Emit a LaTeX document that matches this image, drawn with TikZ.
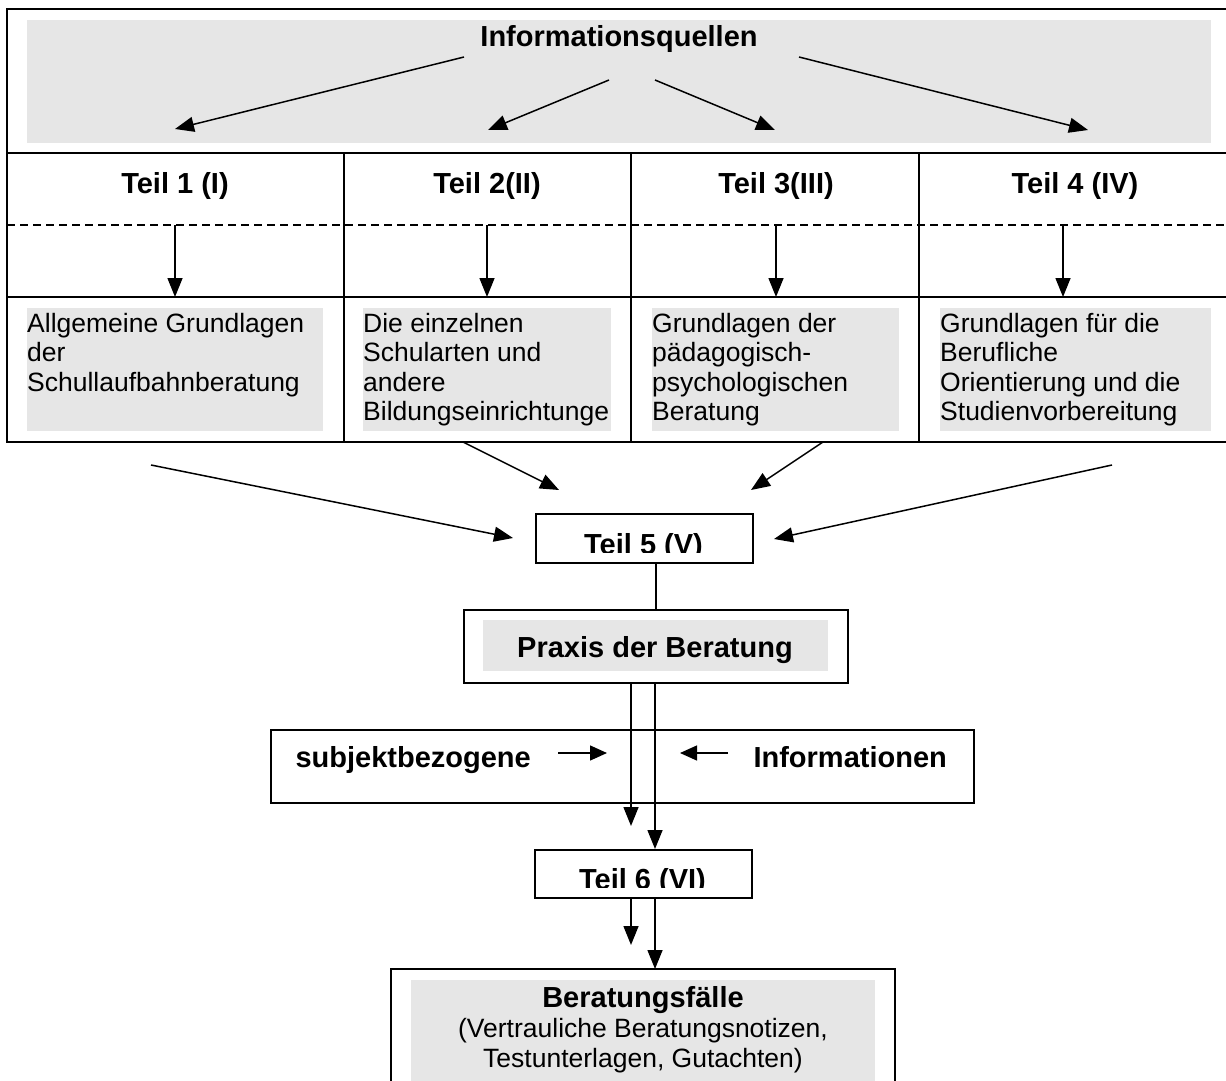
\documentclass[tikz,border=0pt]{standalone}
\usepackage{fontspec}
\setmainfont{Liberation Sans}
\usetikzlibrary{arrows.meta}
\definecolor{shadegray}{RGB}{230,230,230}
\begin{document}
\begin{tikzpicture}[x=1pt,y=-1pt,
  bf/.style={font=\fontsize{29}{34}\selectfont\bfseries},
  rf/.style={font=\fontsize{26.5}{29.4}\selectfont},
  arr/.style={line width=1.5pt,-{Triangle[length=19pt,width=15pt]}},
  sarr/.style={line width=1.4pt,-{Triangle[length=17pt,width=15pt]}},
  rule/.style={line width=1.8pt},
  boxed/.style={draw,line width=1.6pt,inner sep=0pt,anchor=north west},
  shadebox/.style={fill=shadegray,draw=none,inner sep=0pt,anchor=north west},
  para/.style={rf,anchor=north west,inner sep=0pt,align=left},
]
\useasboundingbox (0,0) rectangle (1226,1081);

% ---------- top block ----------
\node[shadebox,minimum width=1184pt,minimum height=123pt] (topshade) at (27,20) {};
\node[bf,anchor=base] (info) at (619,47) {Informationsquellen};

\draw[rule] (1226,9) -- (7,9) -- (7,442) -- (1226,442);
\draw[rule] (7,153) -- (1226,153);
\draw[rule] (7,297) -- (1226,297);
\draw[line width=1.3pt,dash pattern=on 8pt off 5pt] (7,225) -- (1226,225);
\foreach \x in {344,631,919} \draw[rule] (\x,153) -- (\x,442);

% arrows from Informationsquellen
\coordinate (a1s) at (464,57);  \coordinate (a1e) at (175,129);
\coordinate (a2s) at (609,80);  \coordinate (a2e) at (488,130);
\coordinate (a3s) at (655,80);  \coordinate (a3e) at (775,130);
\coordinate (a4s) at (799,57);  \coordinate (a4e) at (1088,130);
\draw[arr] (a1s) -- (a1e);
\draw[arr] (a2s) -- (a2e);
\draw[arr] (a3s) -- (a3e);
\draw[arr] (a4s) -- (a4e);

% headers
\node[bf,anchor=base] (h1) at (175,193) {Teil 1 (I)};
\node[bf,anchor=base] (h2) at (487,193) {Teil 2(II)};
\node[bf,anchor=base] (h3) at (776,193) {Teil 3(III)};
\node[bf,anchor=base] (h4) at (1075,193) {Teil 4 (IV)};

% down arrows
\foreach \i/\x in {1/175,2/487,3/776,4/1063}{
  \coordinate (d\i s) at (\x,225);
  \coordinate (d\i e) at (\x,297);
  \draw[arr] (d\i s) -- (d\i e);
}

% shaded text cells
\node[shadebox,minimum width=296pt,minimum height=123pt] (gb1) at (27,308) {};
\node[shadebox,minimum width=248pt,minimum height=123pt] (gb2) at (363,308) {};
\node[shadebox,minimum width=247pt,minimum height=123pt] (gb3) at (652,308) {};
\node[shadebox,minimum width=271pt,minimum height=123pt] (gb4) at (940,308) {};

\node[para] (g1) at (27,313) {Allgemeine Grundlagen\\der\\Schullaufbahnberatung};
\node[para] (g2) at (363,313) {Die einzelnen\\Schularten und\\andere\\Bildungseinrichtunge};
\node[para] (g3) at (652,313) {Grundlagen der\\pädagogisch-\\psychologischen\\Beratung};
\node[para] (g4) at (940,313) {Grundlagen für die\\Berufliche\\Orientierung und die\\Studienvorbereitung};

% ---------- Teil 5 ----------
\node[boxed,minimum width=217pt,minimum height=49pt] (t5) at (535,513) {};
\begin{scope}
  \clip (535,513) rectangle (752,552.5);
  \node[bf,anchor=base] (t5l) at (643.5,554.5) {Teil 5 (V)};
\end{scope}

\coordinate (b1s) at (151,465);  \coordinate (b1e) at (513,538);
\coordinate (b2s) at (463,442);  \coordinate (b2e) at (559,490);
\coordinate (b3s) at (823,442);  \coordinate (b3e) at (751,490);
\coordinate (b4s) at (1112,465); \coordinate (b4e) at (774,539);
\draw[arr] (b1s) -- (b1e);
\draw[arr] (b2s) -- (b2e);
\draw[arr] (b3s) -- (b3e);
\draw[arr] (b4s) -- (b4e);

% ---------- Praxis ----------
\node[boxed,minimum width=384pt,minimum height=73pt] (praxis) at (463,609) {};
\node[shadebox,minimum width=345pt,minimum height=51pt] (pshade) at (483,620) {};
\node[bf,anchor=base] (ptext) at (655,657) {Praxis der Beratung};
\draw[line width=1.6pt] (praxis.north |- t5.south) -- (praxis.north);

% ---------- subjektbezogene Informationen ----------
\node[boxed,minimum width=703pt,minimum height=73pt] (subj) at (270,729) {};
\node[bf,anchor=base west] (subjl) at (292,767) {subjektbezogene};
\node[bf,anchor=base west] (subjr) at (750,767) {Informationen};
\coordinate (s1s) at (558,753); \coordinate (s1e) at (607,753);
\coordinate (s2s) at (728,753); \coordinate (s2e) at (680,753);
\draw[sarr] (s1s) -- (s1e);
\draw[sarr] (s2s) -- (s2e);

% ---------- Teil 6 ----------
\node[boxed,minimum width=217pt,minimum height=48pt] (t6) at (534,849) {};
\begin{scope}
  \clip (534,849) rectangle (751,887.5);
  \node[bf,anchor=base] (t6l) at (642.5,889.5) {Teil 6 (VI)};
\end{scope}

\coordinate (p1) at (631,682); \coordinate (p1e) at (631,826);
\draw[arr] (p1) -- (p1e);
\draw[arr] (praxis.south -| 655,0) -- (t6.north -| 655,0);

\coordinate (q1) at (631,897); \coordinate (q1e) at (631,945);
\draw[arr] (q1) -- (q1e);

% ---------- Beratungsfaelle ----------
\coordinate (bfl) at (391,1090); \coordinate (bfr) at (895,1090);
\coordinate (bftl) at (391,969); \coordinate (bftr) at (895,969);
\fill[shadegray] (411,980) rectangle (875,1085);
\draw[line width=1.6pt] (bfl) -- (bftl) -- (bftr) -- (bfr);
\draw[arr] (t6.south -| 655,0) -- (655,969);
\node[bf,anchor=base] (bft) at (643,1007) {Beratungsfälle};
\node[rf,anchor=base] (bf2) at (643,1037) {(Vertrauliche Beratungsnotizen,};
\node[rf,anchor=base] (bf3) at (643,1067) {Testunterlagen, Gutachten)};
\end{tikzpicture}
\end{document}
